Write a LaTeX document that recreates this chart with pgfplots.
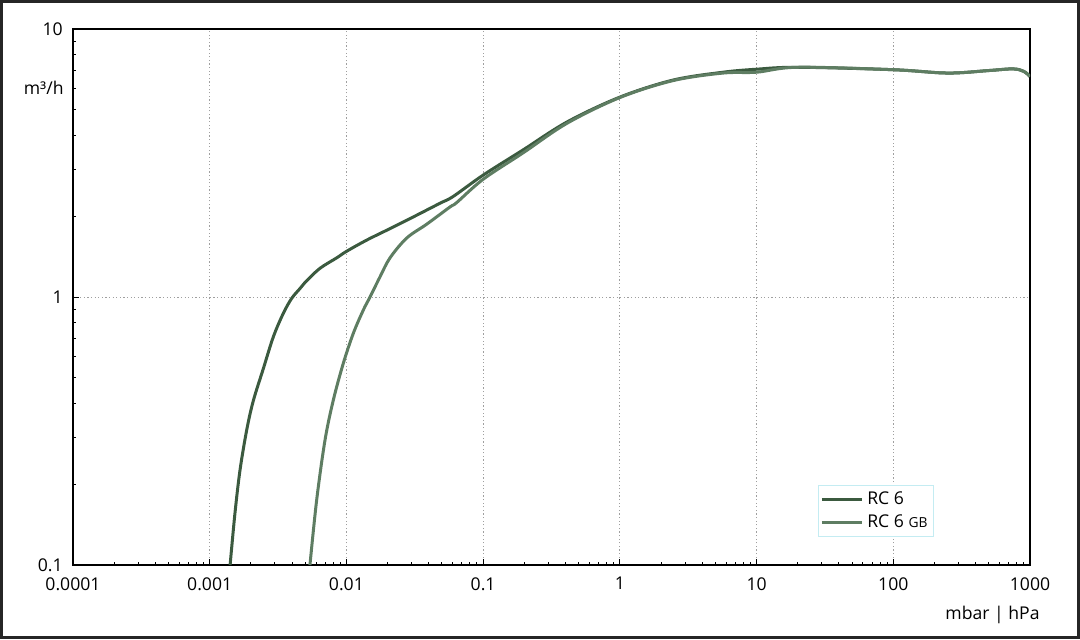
\documentclass[border=0pt]{standalone}
\usepackage{pgfplots}
\pgfplotsset{compat=1.18}
\usepackage{fontspec}
\setmainfont{Open Sans}
\definecolor{rcdark}{HTML}{3B5A3F}
\definecolor{rclight}{HTML}{5E7D62}
\definecolor{legframe}{HTML}{C4ECF2}
\begin{document}
\fontsize{8.8}{10.5}\selectfont
\begin{tikzpicture}
\useasboundingbox (0,0) rectangle (540pt,319.5pt);
\draw[line width=1.4pt,color=black!85] (0.7pt,0.7pt) rectangle (539.3pt,318.8pt);
\begin{axis}[
  at={(36.5pt,37pt)}, anchor=south west,
  scale only axis, width=478.5pt, height=268pt,
  xmode=log, ymode=log,
  xmin=0.0001, xmax=1000, ymin=0.1, ymax=10,
  xtick={0.0001,0.001,0.01,0.1,1,10,100,1000},
  xticklabels={0.0001,0.001,0.01,0.1,1,10,100,1000},
  minor xtick={2e-4,3e-4,4e-4,5e-4,6e-4,7e-4,8e-4,9e-4,
    2e-3,3e-3,4e-3,5e-3,6e-3,7e-3,8e-3,9e-3,
    2e-2,3e-2,4e-2,5e-2,6e-2,7e-2,8e-2,9e-2,
    0.2,0.3,0.4,0.5,0.6,0.7,0.8,0.9,
    2,3,4,5,6,7,8,9,
    20,30,40,50,60,70,80,90,
    200,300,400,500,600,700,800,900},
  ytick={0.1,1,10},
  yticklabels={0.1,1,10},
  minor ytick={0.2,0.3,0.4,0.5,0.6,0.7,0.8,0.9,2,3,4,5,6,7,8,9},
  tick pos=left,
  tick align=inside,
  major tick length=2.8pt, minor tick length=1.6pt,
  every tick/.style={black, line width=0.5pt},
  axis line style={black, line width=0.6pt},
  grid=major,
  major grid style={gray!75, line width=0.5pt, dash pattern=on 0.6pt off 1.2pt},
  xticklabel style={yshift=-3pt},
  yticklabel style={xshift=-2pt},
  tick label style={font=\fontsize{8.8}{10.5}\selectfont},
  legend style={at={(0.8997,0.149)}, anchor=north east, draw=legframe, line width=0.5pt,
    font=\fontsize{8.8}{10.5}\selectfont, inner sep=1pt, row sep=0pt,
    cells={anchor=west}},
  legend image code/.code={\draw[#1, line width=1.5pt] (0pt,0pt) -- (20pt,0pt);},
  clip mode=individual,
]
\addplot[rcdark, line width=1.5pt, smooth, tension=0.55] coordinates {
(0.00141,0.1) (0.00153,0.156) (0.001666,0.226) (0.001865,0.319) (0.002084,0.41)
(0.002466,0.54) (0.002922,0.711) (0.003454,0.869) (0.003981,0.989) (0.00457,1.075)
(0.00512,1.15) (0.00641,1.28) (0.00849,1.40) (0.01,1.48) (0.01405,1.63)
(0.02084,1.80) (0.03084,1.99) (0.0485,2.24) (0.0602,2.37) (0.1,2.85)
(0.196,3.54) (0.411,4.5) (1,5.57) (2.45,6.45) (5.69,6.9) (10,7.08)
(20,7.2) (100,7.05) (250,6.85) (500,7.0) (750,7.1) (900,6.95) (1000,6.65)
};
\addlegendentry{RC 6}
\addplot[rclight, line width=1.5pt, smooth, tension=0.55] coordinates {
(0.00541,0.1) (0.00606,0.175) (0.006977,0.293) (0.008025,0.413) (0.009491,0.566)
(0.01123,0.732) (0.01329,0.894) (0.01488,1.0) (0.01762,1.19) (0.02084,1.40)
(0.02761,1.66) (0.03868,1.87) (0.0574,2.17) (0.064,2.25) (0.1,2.75)
(0.196,3.45) (0.411,4.45) (1,5.55) (2.45,6.42)
(5.69,6.85) (10,6.9) (20,7.2) (100,7.05) (250,6.85) (500,7.0) (750,7.1)
(900,6.95) (1000,6.65)
};
\addlegendentry{RC 6 {\fontsize{6.9}{8}\selectfont GB}}
\node[anchor=east, inner sep=0pt] at ([xshift=-4.5pt]rel axis cs:0,0.89) {m³/h};
\node[anchor=east, inner sep=0pt] at ([xshift=5pt,yshift=-25pt]rel axis cs:1,0) {mbar | hPa};
\end{axis}
\end{tikzpicture}
\end{document}
